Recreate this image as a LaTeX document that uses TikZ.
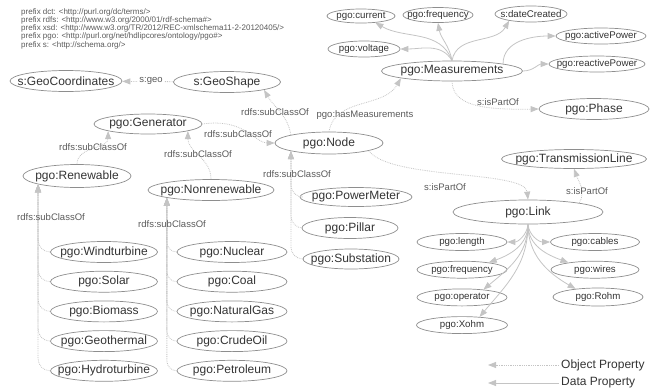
\documentclass[tikz,border=0pt]{standalone}
\usepackage{fontspec}
\setmainfont{Liberation Sans}
\usepackage{tikz}
\usetikzlibrary{positioning,calc,shapes.geometric,arrows.meta}

\definecolor{ellgray}{HTML}{8E8E8E}
\definecolor{txtgray}{HTML}{333333}
\definecolor{lblgray}{HTML}{5A5A5A}
\definecolor{edgegray}{HTML}{C4C4C4}

\begin{document}
\begin{tikzpicture}[
  x=1pt, y=-1pt,
  >={Triangle[length=8pt, width=6pt]},
  node distance=8pt,
  cls/.style={ellipse, draw=ellgray, line width=0.7pt, text=txtgray, inner sep=0pt,
    font=\fontsize{12}{14}\selectfont, minimum height=21pt,
    execute at begin node={\hbox to 0pt\bgroup\hss}, execute at end node={\hss\egroup}},
  attr/.style={cls, font=\fontsize{9.7}{11}\selectfont, minimum height=16pt},
  lbl/.style={font=\fontsize{9.5}{11}\selectfont, text=lblgray, inner sep=1pt},
  objprop/.style={->, draw=edgegray, densely dotted, line width=0.8pt},
  dataprop/.style={->, draw=edgegray, line width=0.8pt},
  legend/.style={font=\fontsize{12}{14}\selectfont, text=txtgray, anchor=west, inner sep=2pt}
]
\useasboundingbox (0,0) rectangle (657,389);

\node[anchor=north west, inner sep=0pt, align=left, text=lblgray,
  font=\fontsize{8}{8.3}\selectfont] (prefixes) at (21,8)
  {prefix dct: <http://purl.org/dc/terms/>\\
   prefix rdfs: <http://www.w3.org/2000/01/rdf-schema\#>\\
   prefix xsd: <http://www.w3.org/TR/2012/REC-xmlschema11-2-20120405/>\\
   prefix pgo: <http://purl.org/net/hdlipcores/ontology/pgo\#>\\
   prefix s: <http://schema.org/>};

% classes
\node[cls, minimum width=112pt] (geocoord) at (66,81) {s:GeoCoordinates};
\node[cls, minimum width=107pt] (geoshape) at (227,82) {s:GeoShape};
\node[cls, minimum width=108pt, minimum height=20pt] (generator) at (148,124) {pgo:Generator};
\node[cls, minimum width=108pt, minimum height=23pt] (renewable) at (77,176) {pgo:Renewable};
\node[cls, minimum width=126pt] (nonrenewable) at (211,190) {pgo:Nonrenewable};
\node[cls, minimum width=108pt, minimum height=22pt] (pnode) at (329,143) {pgo:Node};
\node[cls, minimum width=112pt, minimum height=19pt] (powermeter) at (356,197) {pgo:PowerMeter};
\node[cls, minimum width=96pt] (pillar) at (350,228) {pgo:Pillar};
\node[cls, minimum width=96pt, minimum height=20pt] (substation) at (351,259) {pgo:Substation};
\node[cls, minimum width=141pt, minimum height=20pt] (measurements) at (452,71) {pgo:Measurements};
\node[cls, minimum width=110pt] (phase) at (594,109) {pgo:Phase};
\node[cls, minimum width=145pt, minimum height=19pt] (transline) at (574,159) {pgo:TransmissionLine};
\node[cls, minimum width=150pt, minimum height=24pt] (link) at (528,212) {pgo:Link};

\node[cls, minimum width=107pt] (windturbine) at (104,252) {pgo:Windturbine};
\node[cls, minimum width=107pt, below=of windturbine] (solar) {pgo:Solar};
\node[cls, minimum width=107pt, below=of solar] (biomass) {pgo:Biomass};
\node[cls, minimum width=107pt, below=of biomass] (geothermal) {pgo:Geothermal};
\node[cls, minimum width=107pt, below=of geothermal] (hydroturbine) {pgo:Hydroturbine};

\node[cls, minimum width=110pt] (nuclear) at (232,252) {pgo:Nuclear};
\node[cls, minimum width=110pt, below=of nuclear] (coal) {pgo:Coal};
\node[cls, minimum width=110pt, below=of coal] (naturalgas) {pgo:NaturalGas};
\node[cls, minimum width=110pt, below=of naturalgas] (crudeoil) {pgo:CrudeOil};
\node[cls, minimum width=110pt, below=of crudeoil] (petroleum) {pgo:Petroleum};

% data properties
\node[attr, minimum width=68pt, minimum height=14pt] (current) at (361,16) {pgo:current};
\node[attr, minimum width=70pt, minimum height=15pt] (mfreq) at (438,15) {pgo:frequency};
\node[attr, minimum width=72pt] (datecreated) at (531,14) {s:dateCreated};
\node[attr, minimum width=72pt] (voltage) at (364,49) {pgo:voltage};
\node[attr, minimum width=90pt] (activepower) at (601,36) {pgo:activePower};
\node[attr, minimum width=96pt] (reactivepower) at (597,64) {pgo:reactivePower};

\node[attr, minimum width=90pt, minimum height=17pt] (length) at (462,242) {pgo:length};
\node[attr, minimum width=90pt, minimum height=17pt, below=10pt of length] (lfreq) {pgo:frequency};
\node[attr, minimum width=90pt, minimum height=17pt, below=10pt of lfreq] (operator) {pgo:operator};
\node[attr, minimum width=91pt, minimum height=17pt, below=10pt of operator] (xohm) {pgo:Xohm};
\node[attr, minimum width=89pt, minimum height=17pt] (cables) at (595,242) {pgo:cables};
\node[attr, minimum width=88pt, minimum height=17pt, below=10pt of cables] (wires) {pgo:wires};
\node[attr, minimum width=90pt, minimum height=18pt] (rohm) at (598,297) {pgo:Rohm};

% object properties
\draw[objprop] (geoshape) -- (geocoord);
\draw[objprop] (renewable.north) to[out=90, in=-90] (generator.190);
\draw[objprop] (nonrenewable.north) to[out=90, in=-90] (generator.-10);
\draw[objprop] (generator.east) .. controls (245,118) and (255,143) .. (pnode.west);
\draw[objprop] (pnode.168) to[out=100, in=-60] (geoshape.-12);
\draw[objprop] (pnode.north) to[out=80, in=-120] (measurements.188);
\draw[objprop] (measurements.south) .. controls (453,105) and (480,110) .. (phase.west);
\draw[objprop] (pnode.-11) .. controls (390,180) and (525,170) .. (link.north);
\draw[objprop] (link.10) to[out=60, in=-70] (transline.south);

\draw[objprop, rounded corners=12pt] (powermeter.west) -| (pnode.192);
\draw[objprop, rounded corners=12pt] (pillar.west) -| (pnode.192);
\draw[objprop, rounded corners=12pt] (substation.west) -| (pnode.192);

\draw[objprop, rounded corners=12pt] (windturbine.west) -| (renewable.192);
\draw[objprop, rounded corners=12pt] (solar.west) -| (renewable.192);
\draw[objprop, rounded corners=12pt] (biomass.west) -| (renewable.192);
\draw[objprop, rounded corners=12pt] (geothermal.west) -| (renewable.192);
\draw[objprop, rounded corners=12pt] (hydroturbine.west) -| (renewable.192);

\draw[objprop, rounded corners=10pt] (nuclear.west) -| (nonrenewable.190);
\draw[objprop, rounded corners=10pt] (coal.west) -| (nonrenewable.190);
\draw[objprop, rounded corners=10pt] (naturalgas.west) -| (nonrenewable.190);
\draw[objprop, rounded corners=10pt] (crudeoil.west) -| (nonrenewable.190);
\draw[objprop, rounded corners=10pt] (petroleum.west) -| (nonrenewable.190);

% data property edges
\draw[dataprop] (measurements.north) to[out=110, in=-30] (current.-25);
\draw[dataprop] (measurements.north) to[out=100, in=-80] (mfreq.south);
\draw[dataprop] (measurements.north) to[out=80, in=-120] (datecreated.197);
\draw[dataprop] (measurements.north) to[out=120, in=0] (voltage.east);
\draw[dataprop] (measurements.8) to[out=90, in=180] (activepower.west);
\draw[dataprop] (measurements.east) to[out=0, in=180] (reactivepower.west);

\draw[dataprop] (link.south) to[out=-95, in=0] (length.east);
\draw[dataprop] (link.south) to[out=-90, in=20] (lfreq.15);
\draw[dataprop] (link.south) to[out=-90, in=40] (operator.20);
\draw[dataprop] (link.south) to[out=-90, in=50] (xohm.25);
\draw[dataprop] (link.south) to[out=-85, in=180] (cables.west);
\draw[dataprop] (link.south) to[out=-90, in=160] (wires.165);
\draw[dataprop] (link.south) to[out=-90, in=150] (rohm.160);

% edge labels
\node[lbl, fill=white] (lgeo) at (151,81) {s:geo};
\node[lbl] (lshape) at (275,112) {rdfs:subClassOf};
\node[lbl] (lhasmeas) at (365,115) {pgo:hasMeasurements};
\node[lbl] (lphase) at (498,102) {s:isPartOf};
\node[lbl] (lgennode) at (238,134) {rdfs:subClassOf};
\node[lbl] (lren) at (93,147) {rdfs:subClassOf};
\node[lbl] (lnonren) at (198,154) {rdfs:subClassOf};
\node[lbl] (lnode) at (297,174) {rdfs:subClassOf};
\node[lbl] (llink) at (445,187) {s:isPartOf};
\node[lbl] (ltrans) at (587,191) {s:isPartOf};
\node[lbl] (lrenkids) at (51,217) {rdfs:subClassOf};
\node[lbl] (lnonkids) at (172,224) {rdfs:subClassOf};

% legend
\node[legend] (objtext) at (559,365) {Object Property};
\node[legend] (datatext) at (559,383) {Data Property};
\coordinate (objend) at (488,365);
\coordinate (dataend) at (488,383);
\draw[objprop] (objtext.west) -- (objend);
\draw[dataprop] (datatext.west) -- (dataend);

\end{tikzpicture}
\end{document}
